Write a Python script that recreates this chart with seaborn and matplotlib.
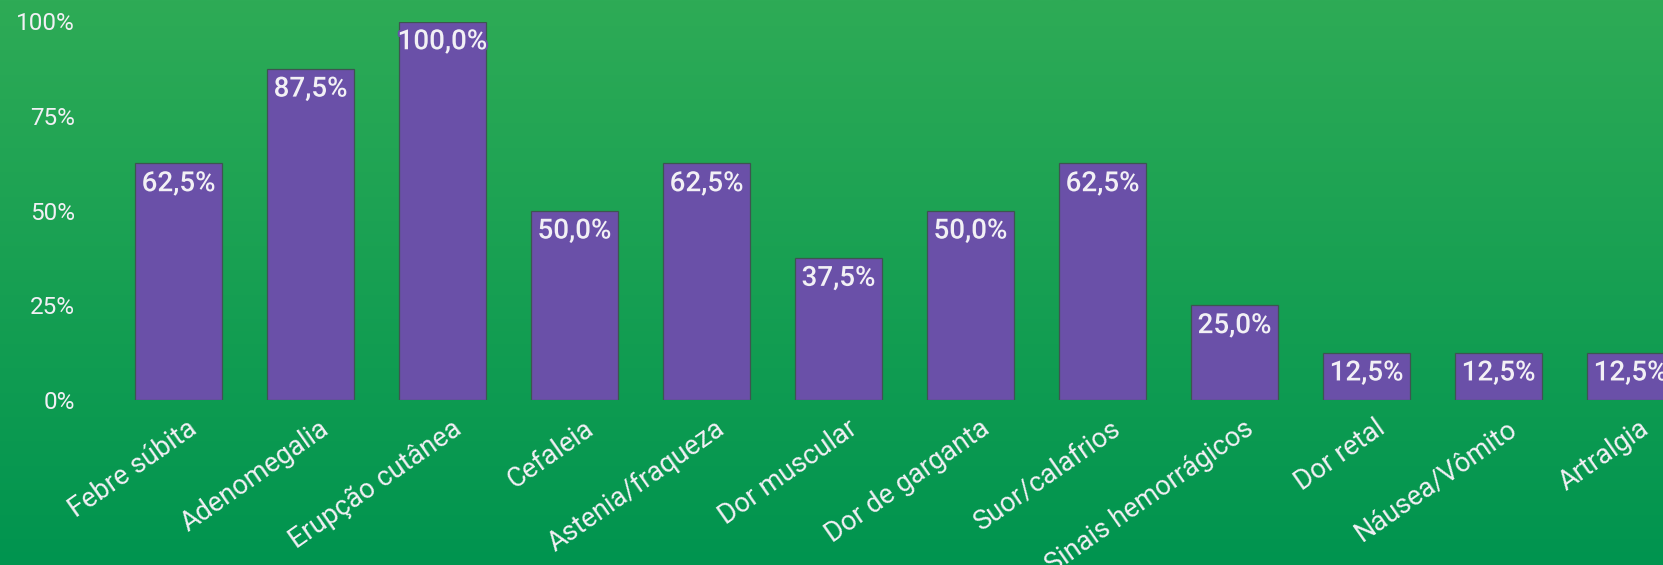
import numpy as np
import pandas as pd
import matplotlib
matplotlib.use("Agg")
import matplotlib.pyplot as plt
import matplotlib.patheffects as pe
from matplotlib.transforms import ScaledTranslation
import seaborn as sns

categories = ["Febre súbita", "Adenomegalia", "Erupção cutânea", "Cefaleia",
              "Astenia/fraqueza", "Dor muscular", "Dor de garganta", "Suor/calafrios",
              "Sinais hemorrágicos", "Dor retal", "Náusea/Vômito", "Artralgia"]
values = [62.5, 87.5, 100.0, 50.0, 62.5, 37.5, 50.0, 62.5, 25.0, 12.5, 12.5, 12.5]
y_ticks = [0, 25, 50, 75, 100]
y_tick_labels = ["0%", "25%", "50%", "75%", "100%"]

BAR = "#6a50a8"
TXT = "#f2f0f5"

sns.set_theme(style="white")
plt.rcParams["font.family"] = ["Roboto", "DejaVu Sans"]

fig = plt.figure(figsize=(16.63, 5.65), dpi=100)

# gradient background
bg = fig.add_axes([0, 0, 1, 1], zorder=0)
top = np.array(matplotlib.colors.to_rgb("#2eab56"))
bot = np.array(matplotlib.colors.to_rgb("#00944f"))
t = np.linspace(0, 1, 256)[:, None]
grad = top[None, None, :] * (1 - t[:, :, None]) + bot[None, None, :] * t[:, :, None]
bg.imshow(grad, aspect="auto", extent=[0, 1, 0, 1])
bg.set_axis_off()

W, H = 1663, 565
left_px, right_px = 112.5, 1696.5
top_px, bottom_px = 21.5, 400
ax = fig.add_axes([left_px / W, 1 - bottom_px / H, (right_px - left_px) / W,
                   (bottom_px - top_px) / H], zorder=1)
ax.patch.set_alpha(0)

df = pd.DataFrame({"cat": categories, "val": values})
sns.barplot(data=df, x="cat", y="val", color=BAR, saturation=1, width=0.66,
            edgecolor="#3d5550", linewidth=0.9, ax=ax)

ax.set_xlim(-0.5, len(categories) - 0.5)
ax.set_ylim(0, 100)
ax.set_yticks(y_ticks)
ax.set_yticklabels(y_tick_labels)
ax.set_xlabel("")
ax.set_ylabel("")
for s in ax.spines.values():
    s.set_visible(False)
ax.tick_params(axis="y", length=0, pad=27, labelsize=17.5, labelcolor=TXT)
ax.tick_params(axis="x", length=0, pad=0, labelsize=19.5, labelcolor=TXT)

ax.set_xticks(range(len(categories)))
ax.set_xticklabels(categories, rotation=35, ha="right", va="center",
                   rotation_mode="anchor")
off = ScaledTranslation(16 / 100, -26 / 100, fig.dpi_scale_trans)
for lab in ax.get_xticklabels():
    lab.set_transform(lab.get_transform() + off)

for i, v in enumerate(values):
    ax.annotate(f"{v:.1f}%".replace(".", ","), xy=(i, v), xytext=(0, -20),
                textcoords="offset points", ha="center", va="baseline",
                fontsize=20, fontweight=500, color=TXT, annotation_clip=False,
                path_effects=[pe.withStroke(linewidth=3, foreground=BAR)])

fig.savefig("out.png", dpi=100)
